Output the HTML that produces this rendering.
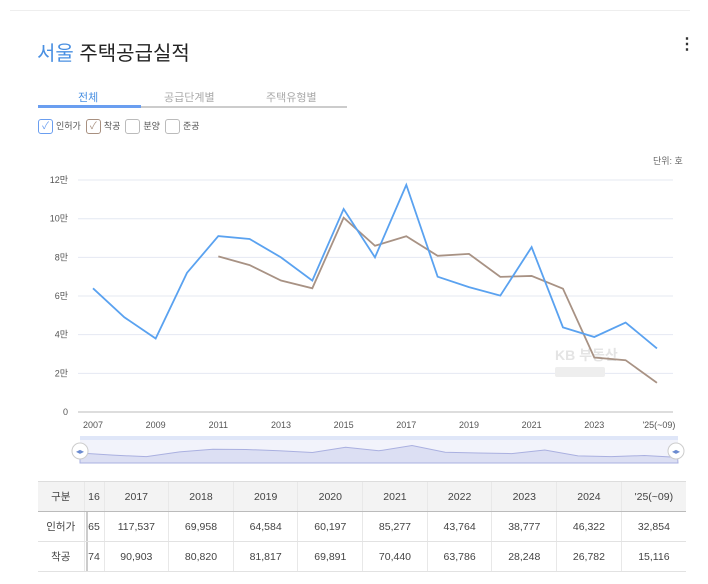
<!DOCTYPE html>
<html><head><meta charset="utf-8"><style>
body{margin:0;width:708px;height:584px;background:#fff;font-family:"Liberation Sans","Noto Sans CJK KR",sans-serif;overflow:hidden;position:relative}
.a{position:absolute}
table{border-collapse:collapse;position:absolute;left:38px;top:481px;width:648px;font-size:10.5px;color:#444;table-layout:fixed}
td{height:29px;padding:0;line-height:12px;text-align:center;border-bottom:1px solid #e2e2e2;border-left:1px solid #e8e8e8}
tr:first-child td{background:#f3f3f3;border-top:1px solid #ddd;border-bottom:1px solid #bbb;height:29px}
td:first-child{border-left:none}
.cb{display:inline-block;width:13px;height:13px;border:1px solid #bbb;border-radius:3px;vertical-align:middle;margin-right:3px;font-size:10px;line-height:13px;text-align:center}
</style></head><body>
<div class="a" style="left:10px;top:10px;width:680px;height:1px;background:#eee"></div>
<div class="a" style="left:37px;top:37px;font-size:20px;color:#222"><span style="color:#4a90e2">서울</span> 주택공급실적</div>
<div class="a" style="left:679px;top:34px;font-size:16px;font-weight:bold;color:#333">⋮</div>
<div class="a" style="left:38px;top:106px;width:309px;height:2px;background:#ccc"></div>
<div class="a" style="left:38px;top:105px;width:103px;height:3px;background:#6a9ef0"></div>
<div class="a" style="left:78px;top:89px;font-size:11px;color:#4a90e2">전체</div>
<div class="a" style="left:164px;top:89px;font-size:11px;color:#aaa">공급단계별</div>
<div class="a" style="left:266px;top:89px;font-size:11px;color:#aaa">주택유형별</div>
<div class="a" style="left:38px;top:119px;font-size:9px;color:#555">
<span class="cb" style="border-color:#6a9ef0;color:#6a9ef0">✓</span>인허가&nbsp;
<span class="cb" style="border-color:#a89080;color:#a89080">✓</span>착공&nbsp;
<span class="cb"></span>분양&nbsp;
<span class="cb"></span>준공</div>
<div class="a" style="left:653px;top:154px;font-size:9px;color:#666">단위: 호</div>
<svg class="a" style="left:0;top:0" width="708" height="584" id="s"></svg>
<table>
<colgroup><col style="width:46px"><col style="width:20px"><col><col><col><col><col><col><col><col><col></colgroup>
<tr><td>구분</td><td>16</td><td>2017</td><td>2018</td><td>2019</td><td>2020</td><td>2021</td><td>2022</td><td>2023</td><td>2024</td><td>'25(~09)</td></tr>
<tr><td>인허가</td><td>65</td><td>117,537</td><td>69,958</td><td>64,584</td><td>60,197</td><td>85,277</td><td>43,764</td><td>38,777</td><td>46,322</td><td>32,854</td></tr>
<tr><td>착공</td><td>74</td><td>90,903</td><td>80,820</td><td>81,817</td><td>69,891</td><td>70,440</td><td>63,786</td><td>28,248</td><td>26,782</td><td>15,116</td></tr>
</table>
<script>
var s='',X=function(i){return 93+i*31.33},Y=function(v){return 412-v*19.33};
for(var k=0;k<=6;k++){var y=Y(k*2);s+='<line x1="78" x2="673" y1="'+y+'" y2="'+y+'" stroke="'+(k?'#e4e8f2':'#bbb')+'"/><text x="68" y="'+(y+3)+'" font-size="9" fill="#555" text-anchor="end">'+(k?k*2+'만':'0')+'</text>';}
var lb=['2007','2009','2011','2013','2015','2017','2019','2021','2023',"'25(~09)"];
for(var k=0;k<10;k++)s+='<text x="'+(X(k*2)+(k==9?2:0))+'" y="428" font-size="9" fill="#555" text-anchor="middle">'+lb[k]+'</text>';
var b=[6.4,4.9,3.8,7.2,9.1,8.95,8.0,6.8,10.5,8.0,11.75,7.0,6.46,6.02,8.53,4.38,3.88,4.63,3.29];
var r=[null,null,null,null,8.05,7.6,6.8,6.4,10.05,8.6,9.09,8.08,8.18,6.99,7.04,6.38,2.82,2.68,1.51];
s+='<text x="555" y="360" font-size="14" fill="#e4e4e4" font-weight="bold">KB 부동산</text><rect x="555" y="367" width="50" height="10" rx="2" fill="#eee"/>';
function pl(a,c){var p=[];a.forEach(function(v,i){if(v!=null)p.push(X(i)+','+Y(v))});return '<polyline points="'+p.join(' ')+'" fill="none" stroke="'+c+'" stroke-width="1.8"/>';}
s+=pl(r,'#a89284')+pl(b,'#5aa2f0');
s+='<rect x="80" y="436" width="598" height="4" fill="#dfe6f8"/><rect x="80" y="440" width="598" height="23" fill="#f2f3fb"/>';
var q=[];b.forEach(function(v,i){q.push((80+i*33.2)+','+(462-v*1.4))});
s+='<polygon points="80,463 '+q.join(' ')+' 678,463" fill="#dcdff3" stroke="#aab0e0" stroke-width="1"/>';
[80,676].forEach(function(x){s+='<circle cx="'+x+'" cy="451" r="8" fill="#fff" stroke="#ccc"/><text x="'+x+'" y="454" font-size="8" fill="#6a8ad0" text-anchor="middle">◂▸</text>'});
s+='<line x1="87" x2="87" y1="481" y2="571" stroke="#999"/>';
document.getElementById('s').innerHTML=s;
</script>
</body></html>
